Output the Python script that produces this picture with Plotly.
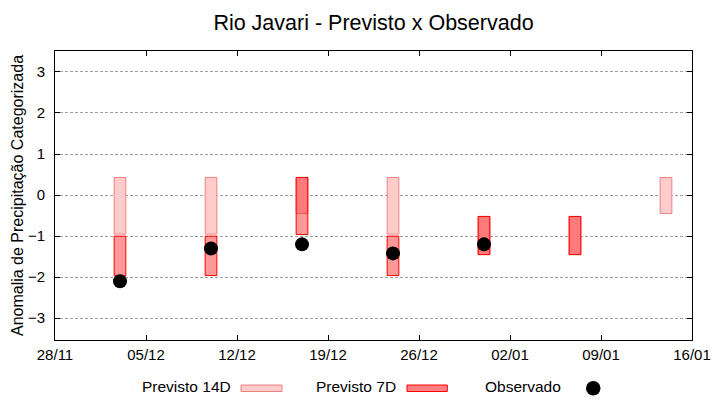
import plotly.graph_objects as go
import pandas as pd

# ---- data ----
dates_14d = ["2023-12-03", "2023-12-10", "2023-12-17", "2023-12-24", "2023-12-31", "2024-01-07", "2024-01-14"]
prev14_low = [-0.95, -0.95, -0.45, -0.95, -1.45, -1.45, -0.45]
prev14_high = [0.43, 0.43, 0.43, 0.43, -0.52, -0.52, 0.43]

dates_7d = ["2023-12-03", "2023-12-10", "2023-12-17", "2023-12-24", "2023-12-31", "2024-01-07"]
prev7_low = [-1.96, -1.96, -0.96, -1.96, -1.45, -1.45]
prev7_high = [-1.0, -1.0, 0.43, -1.0, -0.52, -0.52]

dates_obs = ["2023-12-03", "2023-12-10", "2023-12-17", "2023-12-24", "2023-12-31"]
observado = [-2.1, -1.3, -1.2, -1.42, -1.2]

x_start, x_end = "2023-11-28", "2024-01-16"
y_ticks = [-3, -2, -1, 0, 1, 2, 3]

title = "Rio Javari - Previsto x Observado"
y_title = "Anomalia de Precipitação Categorizada"
legend_labels = ["Previsto 14D", "Previsto 7D", "Observado"]

# ---- styles ----
FONT = "Liberation Sans, Arial, sans-serif"
DAY = 86400000
c14_fill, c14_line = "#ffcccc", "#f08080"
c7_fill, c7_line = "rgba(255,0,0,0.4)", "#ff0000"

fig = go.Figure()
fig.add_trace(go.Bar(
    x=pd.to_datetime(dates_14d),
    y=[h - l for h, l in zip(prev14_high, prev14_low)],
    base=prev14_low,
    width=0.9 * DAY,
    marker=dict(color=c14_fill, line=dict(color=c14_line, width=1)),
    name=legend_labels[0], showlegend=False,
))
fig.add_trace(go.Bar(
    x=pd.to_datetime(dates_7d),
    y=[h - l for h, l in zip(prev7_high, prev7_low)],
    base=prev7_low,
    width=0.9 * DAY,
    marker=dict(color=c7_fill, line=dict(color=c7_line, width=1)),
    name=legend_labels[1], showlegend=False,
))
fig.add_trace(go.Scatter(
    x=pd.to_datetime(dates_obs), y=observado, mode="markers",
    marker=dict(color="black", size=14),
    name=legend_labels[2], showlegend=False,
))

L, R, T, B = 55, 28, 51, 60
W, H = 720, 400
pw, ph = W - L - R, H - T - B


def px(x):
    return (x - L) / pw


def py(y):
    return (H - B - y) / ph


fig.update_layout(
    width=W, height=H,
    margin=dict(l=L, r=R, t=T, b=B, autoexpand=False),
    plot_bgcolor="white", paper_bgcolor="white",
    barmode="overlay",
    font=dict(family=FONT, size=15, color="black"),
    title=dict(text=title, x=0.5, xref="paper", xanchor="center",
               y=1 - 22 / H, yref="container", yanchor="middle",
               font=dict(size=21.5, family=FONT, color="black")),
    xaxis=dict(
        type="date", range=[x_start, x_end], automargin=False,
        tick0=x_start, dtick=7 * DAY, tickformat="%d/%m",
        ticks="inside", ticklen=5, tickcolor="black",
        showline=True, linecolor="black", linewidth=1, mirror="ticks",
        showgrid=False, zeroline=False,
        tickfont=dict(size=15), ticklabelstandoff=1,
    ),
    yaxis=dict(
        range=[-3.53, 3.51], tickvals=y_ticks, automargin=False,
        ticks="inside", ticklen=5, tickcolor="black",
        showline=True, linecolor="black", linewidth=1, mirror="ticks",
        showgrid=True, gridcolor="#a0a0a0", gridwidth=1, griddash="3px,2px",
        zeroline=False,
        tickfont=dict(size=15), ticklabelstandoff=6,
        title=dict(text=y_title, font=dict(size=16), standoff=0),
    ),
)

# manual legend (gnuplot style: text then sample)
ly = py(386)
LF = 15.5
fig.add_annotation(text=legend_labels[0], x=px(233), y=ly, xref="paper", yref="paper",
                   xanchor="right", yanchor="middle", showarrow=False, font=dict(size=LF))
fig.add_shape(type="rect", xref="paper", yref="paper", x0=px(241), x1=px(282),
              y0=py(385), y1=py(391.5), fillcolor=c14_fill, line=dict(color=c14_line, width=1))
fig.add_annotation(text=legend_labels[1], x=px(398), y=ly, xref="paper", yref="paper",
                   xanchor="right", yanchor="middle", showarrow=False, font=dict(size=LF))
fig.add_shape(type="rect", xref="paper", yref="paper", x0=px(407), x1=px(447.3),
              y0=py(385), y1=py(391.5), fillcolor="#ff8080", line=dict(color=c7_line, width=1))
fig.add_annotation(text=legend_labels[2], x=px(563), y=ly, xref="paper", yref="paper",
                   xanchor="right", yanchor="middle", showarrow=False, font=dict(size=LF))
fig.add_shape(type="circle", xref="paper", yref="paper", x0=px(586), x1=px(600.5),
              y0=py(381), y1=py(395.5), fillcolor="black", line=dict(color="black", width=0))

fig.write_html("out.html", config={"displayModeBar": False},
               post_script="document.body.style.margin='0';")
